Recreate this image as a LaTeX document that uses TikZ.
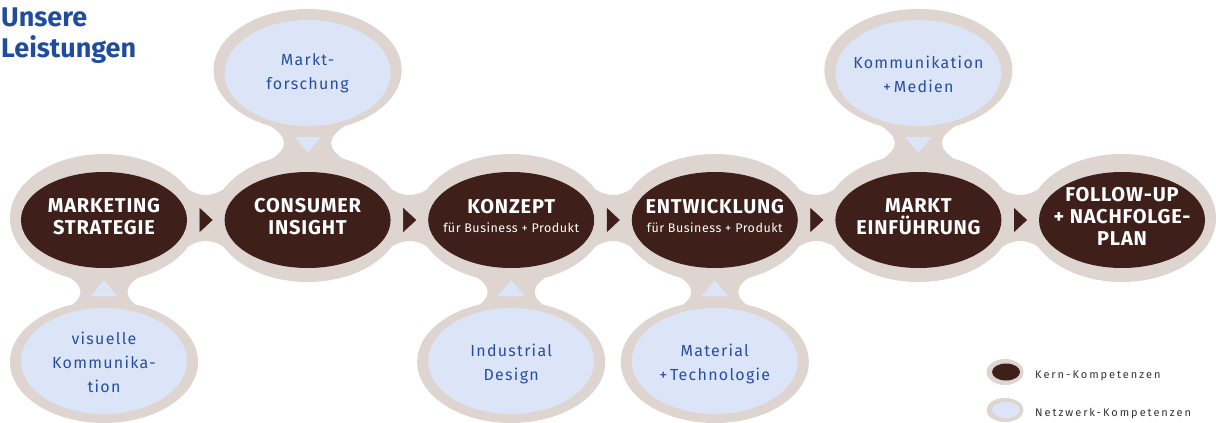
\documentclass[tikz,border=0pt]{standalone}
\usepackage{fontspec}
\setmainfont{Fira Sans}
\newfontfamily\corefont[LetterSpace=4]{Fira Sans}
\newfontfamily\netfont[LetterSpace=8]{Fira Sans}
\newfontfamily\legendfont[LetterSpace=18]{Fira Sans}
\usepackage{tikz}
\usetikzlibrary{shapes.geometric,arrows.meta}
\definecolor{corebrown}{RGB}{62,31,26}
\definecolor{ringbeige}{RGB}{222,212,208}
\definecolor{netblue}{RGB}{219,229,247}
\definecolor{textblue}{RGB}{40,78,160}
\definecolor{titleblue}{RGB}{31,77,158}
\def\coresep{203.6}
\def\corey{218}

\begin{document}
\begin{tikzpicture}[x=1pt,y=-1pt]
    \tikzstyle{ring}=[ellipse,fill=ringbeige,inner sep=0pt]
    \tikzstyle{core ring}=[ring,minimum width=188pt,minimum height=128pt]
    \tikzstyle{sat ring}=[ring,minimum width=188pt,minimum height=122pt]
    \tikzstyle{core}=[ellipse,fill=corebrown,inner sep=0pt,minimum width=166pt,minimum height=96pt]
    \tikzstyle{sat}=[ellipse,fill=netblue,inner sep=0pt,minimum width=166pt,minimum height=106pt]
    \tikzstyle{core text}=[text=white,align=center,inner sep=0pt,font=\corefont\bfseries\fontsize{20}{22}\selectfont]
    \tikzstyle{sat text}=[text=textblue,align=center,inner sep=0pt,font=\netfont\fontsize{16}{24}\selectfont]
    \tikzstyle{step arrow}=[draw=ringbeige,-{Triangle[length=13pt,width=24pt,color=corebrown]}]
    \tikzstyle{net arrow}=[draw=ringbeige,-{Triangle[length=16pt,width=27pt,color=netblue]}]
    \useasboundingbox (0,0) rectangle (1216,423);

    % Title
    \node[anchor=north west,inner sep=0pt,align=left,text=titleblue,
          font=\bfseries\fontsize{27}{31}\selectfont] (title) at (1,8) {Unsere\\Leistungen};

    % Draw the beige rings of the core and network bubbles
    \foreach \name in {1,...,6}
        \node[core ring] (R-\name) at ({104+(\name-1)*\coresep}, \corey) {};
    \node[sat ring] (SR-2) at ({104+\coresep}, 70) {};
    \node[sat ring] (SR-5) at ({104+4*\coresep}, 70) {};
    \foreach \name / \k in {1/0,3/2,4/3}
        \node[sat ring] (SR-\name) at ({104+\k*\coresep}, 362) {};

    % Necks between the core rings
    \foreach \i in {1,...,5} {
        \pgfmathsetmacro\xm{104+(\i-0.5)*\coresep}
        \fill[ringbeige] (\xm-30,\corey-38) .. controls (\xm-8,\corey-18) and (\xm+8,\corey-18) .. (\xm+30,\corey-38)
            -- (\xm+30,\corey+38) .. controls (\xm+8,\corey+18) and (\xm-8,\corey+18) .. (\xm-30,\corey+38) -- cycle;
    }
    % Necks up to the network bubbles
    \foreach \k in {1,4} {
        \pgfmathsetmacro\cx{104+\k*\coresep}
        \fill[ringbeige] (\cx-40,124) .. controls (\cx-18,138) and (\cx-18,148) .. (\cx-40,162)
            -- (\cx+40,162) .. controls (\cx+18,148) and (\cx+18,138) .. (\cx+40,124) -- cycle;
    }
    % Necks down to the network bubbles
    \foreach \k in {0,2,3} {
        \pgfmathsetmacro\cx{104+\k*\coresep}
        \fill[ringbeige] (\cx-40,274) .. controls (\cx-18,286) and (\cx-18,298) .. (\cx-40,310)
            -- (\cx+40,310) .. controls (\cx+18,298) and (\cx+18,286) .. (\cx+40,274) -- cycle;
    }

    % Draw the core and network fills
    \foreach \name in {1,...,6}
        \node[core] (K-\name) at ({104+(\name-1)*\coresep}, 220) {};
    \node[sat] (S-2) at ({104+\coresep}, 73) {};
    \node[sat] (S-5) at ({104+4*\coresep}, 73) {};
    \foreach \name / \k in {1/0,3/2,4/3}
        \node[sat] (S-\name) at ({104+\k*\coresep}, 361) {};

    % Core labels
    \node[core text] at ({104}, 217) {MARKETING\\STRATEGIE};
    \node[core text] at ({104+\coresep}, 217) {CONSUMER\\INSIGHT};
    \node[core text] at ({104+2*\coresep}, 216) {KONZEPT\\[-3pt]{\mdseries\fontsize{12.5}{15}\selectfont für Business + Produkt}};
    \node[core text] at ({104+3*\coresep}, 216) {ENTWICKLUNG\\[-3pt]{\mdseries\fontsize{12.5}{15}\selectfont für Business + Produkt}};
    \node[core text] at ({104+4*\coresep}, 217) {MARKT\\EINFÜHRUNG};
    \node[core text] at ({104+5*\coresep}, 216) {FOLLOW-UP\\+ NACHFOLGE-\\PLAN};

    % Network labels
    \node[sat text] at (S-2) {Markt-\\forschung};
    \node[sat text] at ({104+4*\coresep}, 74) {Kommunikation\\+\,Medien};
    \node[sat text] at (104, 362) {visuelle\\Kommunika-\\tion};
    \node[sat text] at ({104+2*\coresep}, 364) {Industrial\\Design};
    \node[sat text] at ({104+3*\coresep}, 364) {Material\\+\,Technologie};

    % Arrows between the cores
    \foreach \source / \dest in {1/2,2/3,3/4,4/5,5/6}
        \path[step arrow,shorten >=11.8pt] (K-\source) edge (K-\dest);

    % Arrows from the network bubbles
    \path[net arrow,shorten >=19pt] (S-2) edge (K-2);
    \path[net arrow,shorten >=19pt] (S-5) edge (K-5);
    \foreach \name in {1,3,4}
        \path[net arrow,shorten >=12pt] (S-\name) edge (K-\name);

    % Legend
    \node[ring,minimum width=37pt,minimum height=26pt] (L-1) at (1005,372) {};
    \node[core,minimum width=28pt,minimum height=17pt] (LK) at (1006,372) {};
    \node[ring,minimum width=37pt,minimum height=24pt] (L-2) at (1005,410) {};
    \node[sat,minimum width=28pt,minimum height=16pt] (LS) at (1006,410) {};
    \node[anchor=base west,inner sep=0pt,text=black!80,font=\legendfont\fontsize{11}{13}\selectfont] at (1035,378) {Kern-Kompetenzen};
    \node[anchor=base west,inner sep=0pt,text=black!80,font=\legendfont\fontsize{11}{13}\selectfont] at (1035,416) {Netzwerk-Kompetenzen};
\end{tikzpicture}
\end{document}
